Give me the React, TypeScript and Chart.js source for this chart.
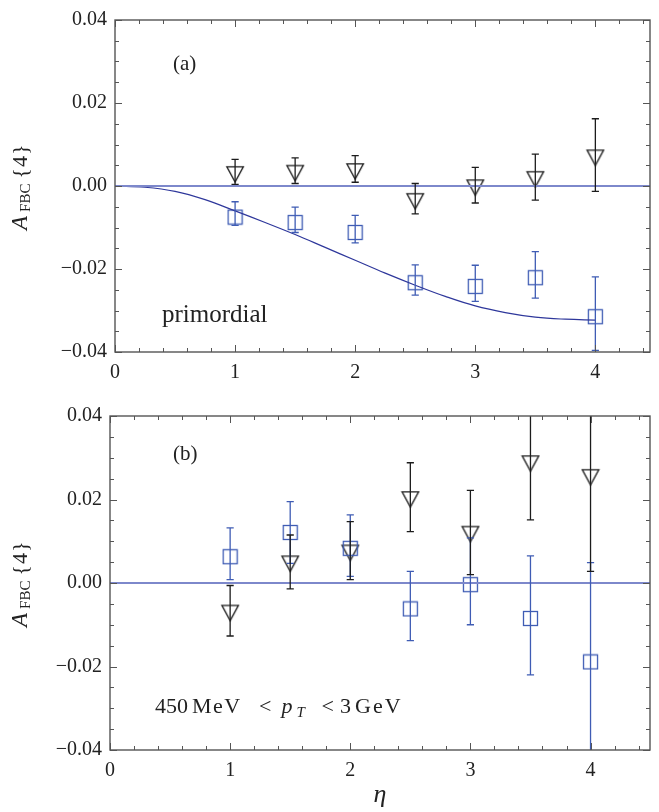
import React, { useEffect, useRef } from "react";
import { Chart, registerables } from "chart.js";
Chart.register(...registerables);

const SERIF = '"Liberation Serif", "Times New Roman", serif';

// ---------- data ----------
const etaPoints = [1, 1.5, 2, 2.5, 3, 3.5, 4];
const xTickValues = [0, 1, 2, 3, 4];
const yTickValues = [-0.04, -0.02, 0, 0.02, 0.04];

// panel (a)
const triA = [0.0034, 0.0037, 0.0041, -0.0031, 0.0002, 0.0022, 0.0074];
const triALow = [0.0004, 0.0006, 0.0009, -0.0067, -0.0041, -0.0034, -0.0013];
const triAHigh = [0.0064, 0.0068, 0.0073, 0.0006, 0.0045, 0.0077, 0.0162];
const sqA = [-0.0075, -0.0088, -0.0112, -0.0233, -0.0242, -0.0221, -0.0315];
const sqALow = [-0.0095, -0.0112, -0.0137, -0.0263, -0.0278, -0.027, -0.0396];
const sqAHigh = [-0.0038, -0.0051, -0.0071, -0.019, -0.0191, -0.0158, -0.0219];
const curveEta = [0, 0.25, 0.5, 0.75, 1, 1.25, 1.5, 1.75, 2, 2.25, 2.5, 2.75, 3, 3.25, 3.5, 3.75, 4];
const curveA = [0, -0.0003, -0.0013, -0.0033, -0.006, -0.0088, -0.0117, -0.0148, -0.0179, -0.021, -0.0239, -0.0266, -0.0289, -0.0305, -0.0316, -0.0321, -0.0323];

// panel (b)
const triB = [-0.0066, 0.0052, 0.0078, 0.0206, 0.0123, 0.0292, 0.0259];
const triBLow = [-0.0127, -0.0014, 0.0008, 0.0123, 0.002, 0.0151, 0.0028];
const triBHigh = [-0.0006, 0.0115, 0.0147, 0.0288, 0.0222, 0.0433, 0.049];
const sqB = [0.0063, 0.0121, 0.0083, -0.0062, -0.0004, -0.0085, -0.0189];
const sqBLow = [0.0008, 0.0047, 0.0016, -0.0138, -0.01, -0.022, -0.043];
const sqBHigh = [0.0132, 0.0195, 0.0163, 0.0028, 0.0108, 0.0065, 0.0049];

const BLUE = "#3f5cb4";
const BLACK = "#1c1c1c";
const ZERO_LINE = "#7d88cb";
const CURVE = "#2e379b";
const FRAME = "#555555";

// ---------- markers ----------
function makeSquare(color: string) {
  const c = document.createElement("canvas");
  c.width = 17;
  c.height = 17;
  const g = c.getContext("2d")!;
  g.strokeStyle = color;
  g.lineWidth = 1.3;
  g.strokeRect(1.5, 1.5, 14, 14);
  return c;
}
function makeTriangle(color: string) {
  const w = 16.5, h = 15.2;
  const H = 26, W = 20;
  const c = document.createElement("canvas");
  c.width = W;
  c.height = H;
  const g = c.getContext("2d")!;
  const cx = W / 2, cy = H / 2;
  g.strokeStyle = color;
  g.lineWidth = 1.3;
  g.lineJoin = "miter";
  g.beginPath();
  g.moveTo(cx - w / 2, cy - h / 3);
  g.lineTo(cx + w / 2, cy - h / 3);
  g.lineTo(cx, cy + (2 * h) / 3);
  g.closePath();
  g.stroke();
  return c;
}

const errorBarPlugin = {
  id: "errbars",
  afterDatasetsDraw(chart: any) {
    const { ctx, chartArea } = chart;
    const xs = chart.scales.x, ys = chart.scales.y;
    ctx.save();
    ctx.beginPath();
    ctx.rect(chartArea.left, chartArea.top, chartArea.right - chartArea.left, chartArea.bottom - chartArea.top);
    ctx.clip();
    chart.data.datasets.forEach((ds: any) => {
      const e = ds.errorBars;
      if (!e) return;
      ctx.strokeStyle = e.color;
      ctx.lineWidth = 1.3;
      ds.data.forEach((p: any, i: number) => {
        const px = xs.getPixelForValue(p.x);
        const yl = ys.getPixelForValue(e.low[i]);
        const yh = ys.getPixelForValue(e.high[i]);
        ctx.beginPath();
        ctx.moveTo(px, yl);
        ctx.lineTo(px, yh);
        [yl, yh].forEach((yy) => {
          if (yy >= chartArea.top - 0.5 && yy <= chartArea.bottom + 0.5) {
            ctx.moveTo(px - 3.6, yy);
            ctx.lineTo(px + 3.6, yy);
          }
        });
        ctx.stroke();
      });
    });
    ctx.restore();
  },
};

function drawYTitle(ctx: CanvasRenderingContext2D, baseX: number, startY: number) {
  ctx.save();
  ctx.translate(baseX, startY);
  ctx.rotate(-Math.PI / 2);
  ctx.fillStyle = "#222";
  ctx.textBaseline = "alphabetic";
  ctx.textAlign = "left";
  let x = 0;
  ctx.font = `italic 23px ${SERIF}`;
  ctx.fillText("A", x, 0);
  x += ctx.measureText("A").width + 4;
  ctx.font = `15px ${SERIF}`;
  ctx.fillText("FBC", x, 3);
  x += ctx.measureText("FBC").width + 5;
  ctx.font = `22px ${SERIF}`;
  ctx.fillText("{", x, 0);
  x += ctx.measureText("{").width + 1;
  ctx.fillText("4", x, 0);
  x += ctx.measureText("4").width + 1;
  ctx.fillText("}", x, 0);
  ctx.restore();
}

function spaced(ctx: CanvasRenderingContext2D, s: string, x: number, y: number, gap: number) {
  for (const ch of s) {
    ctx.fillText(ch, x, y);
    x += ctx.measureText(ch).width + gap;
  }
  return x;
}

function makeDecor(panel: "a" | "b") {
  return {
    id: "decor" + panel,
    afterDraw(chart: any) {
      const { ctx, chartArea } = chart;
      const xs = chart.scales.x, ys = chart.scales.y;
      const { left, right, top, bottom } = chartArea;
      ctx.save();
      // ticks
      ctx.strokeStyle = FRAME;
      ctx.lineWidth = 1;
      ctx.beginPath();
      for (let k = 0; k * 0.2 <= xs.max + 1e-9; k++) {
        const v = k * 0.2;
        const len = k % 5 === 0 ? 7 : 4;
        const px = Math.round(xs.getPixelForValue(v)) + 0.5;
        ctx.moveTo(px, bottom);
        ctx.lineTo(px, bottom - len);
        ctx.moveTo(px, top);
        ctx.lineTo(px, top + len);
      }
      for (let k = -8; k <= 8; k++) {
        const v = k * 0.005;
        const len = k % 4 === 0 ? 7 : 4;
        const py = Math.round(ys.getPixelForValue(v)) + 0.5;
        ctx.moveTo(left, py);
        ctx.lineTo(left + len, py);
        ctx.moveTo(right, py);
        ctx.lineTo(right - len, py);
      }
      ctx.stroke();
      // frame
      ctx.lineWidth = 1.4;
      ctx.strokeRect(left, top, right - left, bottom - top);

      ctx.fillStyle = "#222";
      ctx.textAlign = "left";
      ctx.textBaseline = "alphabetic";
      if (panel === "a") {
        ctx.font = `21px ${SERIF}`;
        ctx.fillText("(a)", 173, 70);
        ctx.font = `25px ${SERIF}`;
        ctx.fillText("primordial", 162, 322);
        drawYTitle(ctx, 27, 230);
      } else {
        ctx.font = `21px ${SERIF}`;
        ctx.fillText("(b)", 173, 64);
        drawYTitle(ctx, 27, 231);
        const by = 317;
        ctx.font = `22px ${SERIF}`;
        spaced(ctx, "450", 155, by, 0);
        spaced(ctx, "MeV", 192, by, 1.5);
        ctx.fillText("<", 259, by);
        ctx.font = `italic 22px ${SERIF}`;
        ctx.fillText("p", 281.5, by);
        ctx.font = `italic 15px ${SERIF}`;
        ctx.fillText("T", 296.5, by + 4);
        ctx.font = `22px ${SERIF}`;
        ctx.fillText("<", 321.5, by);
        ctx.fillText("3", 340, by);
        spaced(ctx, "GeV", 355, by, 2);
        ctx.font = `italic 26px ${SERIF}`;
        ctx.textAlign = "center";
        ctx.fillText("η", (left + right) / 2, 406);
      }
      ctx.restore();
    },
  };
}

function fmtY(v: number) {
  if (Math.abs(v) < 1e-9) return "0.00";
  const s = Math.abs(v).toFixed(2);
  return v < 0 ? "\u2212" + s : s;
}

function buildConfig(panel: "a" | "b") {
  const isA = panel === "a";
  const xMax = isA ? 4.455 : 4.495;
  const yAxisWidth = isA ? 115 : 110;
  const xAxisHeight = isA ? 48 : 62;
  const tri = isA ? triA : triB;
  const triLow = isA ? triALow : triBLow;
  const triHigh = isA ? triAHigh : triBHigh;
  const sq = isA ? sqA : sqB;
  const sqLow = isA ? sqALow : sqBLow;
  const sqHigh = isA ? sqAHigh : sqBHigh;

  const datasets: any[] = [
    {
      data: [
        { x: 0, y: 0 },
        { x: 4.6, y: 0 },
      ],
      showLine: true,
      borderColor: ZERO_LINE,
      borderWidth: 1.8,
      pointRadius: 0,
    },
  ];
  if (isA) {
    datasets.push({
      data: curveEta.map((e, i) => ({ x: e, y: curveA[i] })),
      showLine: true,
      borderColor: CURVE,
      borderWidth: 1.2,
      pointRadius: 0,
      tension: 0.4,
    });
  }
  datasets.push({
    data: etaPoints.map((e, i) => ({ x: e, y: sq[i] })),
    pointStyle: makeSquare(BLUE),
    pointRadius: 8,
    errorBars: { low: sqLow, high: sqHigh, color: BLUE },
  });
  datasets.push({
    data: etaPoints.map((e, i) => ({ x: e, y: tri[i] })),
    pointStyle: makeTriangle(BLACK),
    pointRadius: 8,
    errorBars: { low: triLow, high: triHigh, color: BLACK },
  });

  return {
    type: "scatter" as const,
    data: { datasets },
    options: {
      animation: false,
      responsive: false,
      maintainAspectRatio: false,
      events: [],
      layout: { padding: { top: 14, right: 1, left: 0, bottom: 0 } },
      plugins: { legend: { display: false }, tooltip: { enabled: false } },
      scales: {
        x: {
          type: "linear",
          min: 0,
          max: xMax,
          grid: { display: false, drawTicks: false },
          border: { display: false },
          afterBuildTicks: (s: any) => {
            s.ticks = xTickValues.map((v) => ({ value: v }));
          },
          afterFit: (s: any) => {
            s.height = xAxisHeight;
          },
          ticks: {
            font: { family: SERIF, size: 20 },
            color: "#222",
            padding: 9,
            maxRotation: 0,
            autoSkip: false,
            callback: (v: any) => String(v),
          },
        },
        y: {
          type: "linear",
          min: -0.04,
          max: 0.04,
          grid: { display: false, drawTicks: false },
          border: { display: false },
          afterBuildTicks: (s: any) => {
            s.ticks = yTickValues.map((v) => ({ value: v }));
          },
          afterFit: (s: any) => {
            s.width = yAxisWidth;
          },
          ticks: {
            font: { family: SERIF, size: 20 },
            color: "#222",
            padding: 8,
            autoSkip: false,
            callback: (v: any) => fmtY(Number(v)),
          },
        },
      },
    },
    plugins: [errorBarPlugin, makeDecor(panel)],
  };
}

function Panel({ panel, top, height }: { panel: "a" | "b"; top: number; height: number }) {
  const ref = useRef<HTMLCanvasElement | null>(null);
  useEffect(() => {
    if (!ref.current) return;
    const chart = new Chart(ref.current, buildConfig(panel) as any);
    return () => chart.destroy();
  }, [panel]);
  return (
    <canvas
      ref={ref}
      width={659}
      height={height}
      style={{ position: "absolute", left: 0, top, width: 659, height, display: "block" }}
    />
  );
}

export default function App() {
  return (
    <div style={{ position: "absolute", left: 0, top: 0, width: 659, height: 812, background: "#fff" }}>
      <Panel panel="a" top={0} height={400} />
      <Panel panel="b" top={396} height={416} />
    </div>
  );
}
